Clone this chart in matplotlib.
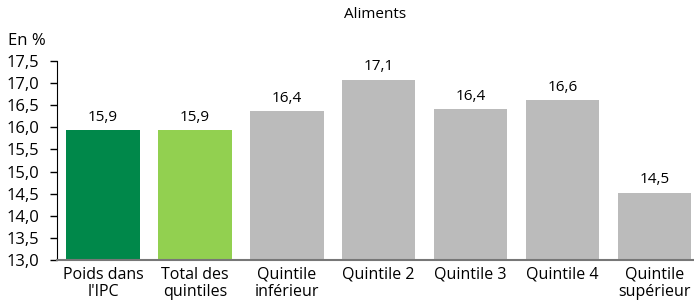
import matplotlib
matplotlib.use("Agg")
import matplotlib.pyplot as plt

categories = ["Poids dans\nl'IPC", "Total des\nquintiles", "Quintile\ninférieur",
              "Quintile 2", "Quintile 3", "Quintile 4", "Quintile\nsupérieur"]
values = [15.94, 15.94, 16.37, 17.08, 16.41, 16.62, 14.52]
labels = ["15,9", "15,9", "16,4", "17,1", "16,4", "16,6", "14,5"]
colors = ["#00884A", "#92D050", "#BBBBBB", "#BBBBBB", "#BBBBBB", "#BBBBBB", "#BBBBBB"]
yticks = [13.0, 13.5, 14.0, 14.5, 15.0, 15.5, 16.0, 16.5, 17.0, 17.5]

plt.rcParams['font.family'] = ['Open Sans', 'DejaVu Sans']

fig = plt.figure(figsize=(6.94, 3.08), dpi=100)
ax = fig.add_axes([57/694, 1-260/308, 1-57/694, (260-61)/308])

x = list(range(len(categories)))
ax.bar(x, [v - 13.0 for v in values], bottom=13.0, width=0.8, color=colors)
for xi, v, l in zip(x, values, labels):
    ax.text(xi, v + 0.12, l, ha='center', va='bottom', fontsize=11)

ax.set_ylim(13.0, 17.5)
ax.set_xlim(-0.5, 6.43)
ax.set_yticks(yticks)
ax.set_yticklabels([f"{t:.1f}".replace('.', ',') for t in yticks], fontsize=12)
ax.set_xticks(x)
ax.set_xticklabels(categories, fontsize=11.5, linespacing=1.1)
ax.tick_params(axis='x', length=0, pad=5)
ax.tick_params(axis='y', length=5, width=1, pad=8)
ax.spines['top'].set_visible(False)
ax.spines['right'].set_visible(False)
ax.spines['left'].set_color('#000000')
ax.spines['bottom'].set_color('#777777')
ax.spines['bottom'].set_linewidth(1.5)

fig.text(375/694, 1-15/308, "Aliments", ha='center', va='center', fontsize=11)
fig.text(8/694, 1-41/308, "En %", ha='left', va='center', fontsize=12)

fig.savefig("out.png", dpi=100)
